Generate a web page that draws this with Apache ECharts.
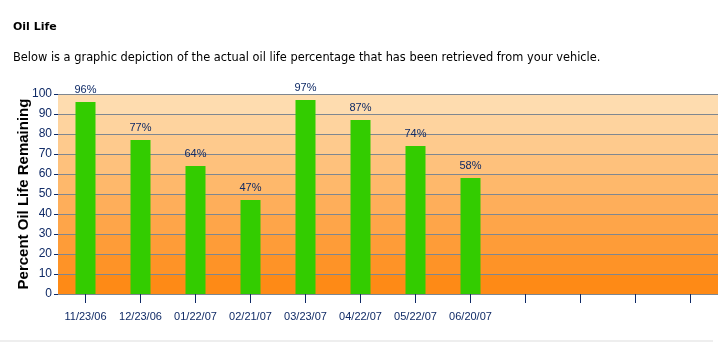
<!DOCTYPE html>
<html><head><meta charset="utf-8">
<script src="https://cdn.jsdelivr.net/npm/echarts@6/dist/echarts.min.js"></script>
<style>html,body{margin:0;padding:0;background:#fff;}#c{width:722px;height:352px;}</style>
</head><body><div id="c"></div>
<script>
const categories = ['11/23/06','12/23/06','01/22/07','02/21/07','03/23/07','04/22/07','05/22/07','06/20/07','','','',''];
const oilLife = [96,77,64,47,97,87,74,58,null,null,null,null];
const yTicks = [0,10,20,30,40,50,60,70,80,90,100];
const titleText = 'Oil Life';
const subText = 'Below is a graphic depiction of the actual oil life percentage that has been retrieved from your vehicle.';
const yName = 'Percent Oil Life Remaining';

const bandColors = ['#FE8A16','#FE9327','#FE9C38','#FEA549','#FEAE5A','#FEB86B','#FEC17C','#FECA8D','#FED39E','#FEDCAF'];
const navy = '#0F2A66';

const chart = echarts.init(document.getElementById('c'), null, {renderer:'canvas'});
chart.setOption({
  animation:false,
  graphic:[
    {type:'text', left:13, top:22, style:{text:titleText, font:'bold 11px "DejaVu Sans"', fill:'#000'}},
    {type:'text', left:13, top:53, style:{text:subText, font:'11.4px "DejaVu Sans"', fill:'#000'}},
    {type:'rect', shape:{x:0,y:340.5,width:713,height:1}, style:{fill:'#dddddd'}}
  ],
  grid:{left:58, right:4, top:94, bottom:58},
  xAxis:{
    type:'category', data:categories, offset:3,
    axisLine:{show:false},
    axisTick:{show:true, alignWithLabel:true, length:9, lineStyle:{color:navy, width:1}},
    axisLabel:{color:navy, fontFamily:'Arial, "Liberation Sans"', fontSize:11, margin:14, interval:0}
  },
  yAxis:{
    type:'value', min:yTicks[0], max:yTicks[yTicks.length-1], interval:10,
    name:yName, nameLocation:'middle', nameGap:27, nameMoveOverlap:false,
    nameTextStyle:{color:'#000', fontFamily:'Arial, "Liberation Sans"', fontWeight:'bold', fontSize:15},
    axisLine:{show:false},
    axisTick:{show:true, length:4, lineStyle:{color:navy}},
    axisLabel:{color:navy, fontFamily:'Arial, "Liberation Sans"', fontSize:12, margin:6},
    splitLine:{show:true, lineStyle:{color:'#7F8790', width:1}},
    splitArea:{show:true, areaStyle:{color:bandColors, opacity:1}}
  },
  series:[{
    type:'bar', data:oilLife, barWidth:20,
    itemStyle:{color:'#33CC00'},
    z:3,
    label:{show:true, position:'top', distance:7, formatter:'{c}%', color:navy, fontFamily:'Arial, "Liberation Sans"', fontSize:11}
  }]
});
</script></body></html>
